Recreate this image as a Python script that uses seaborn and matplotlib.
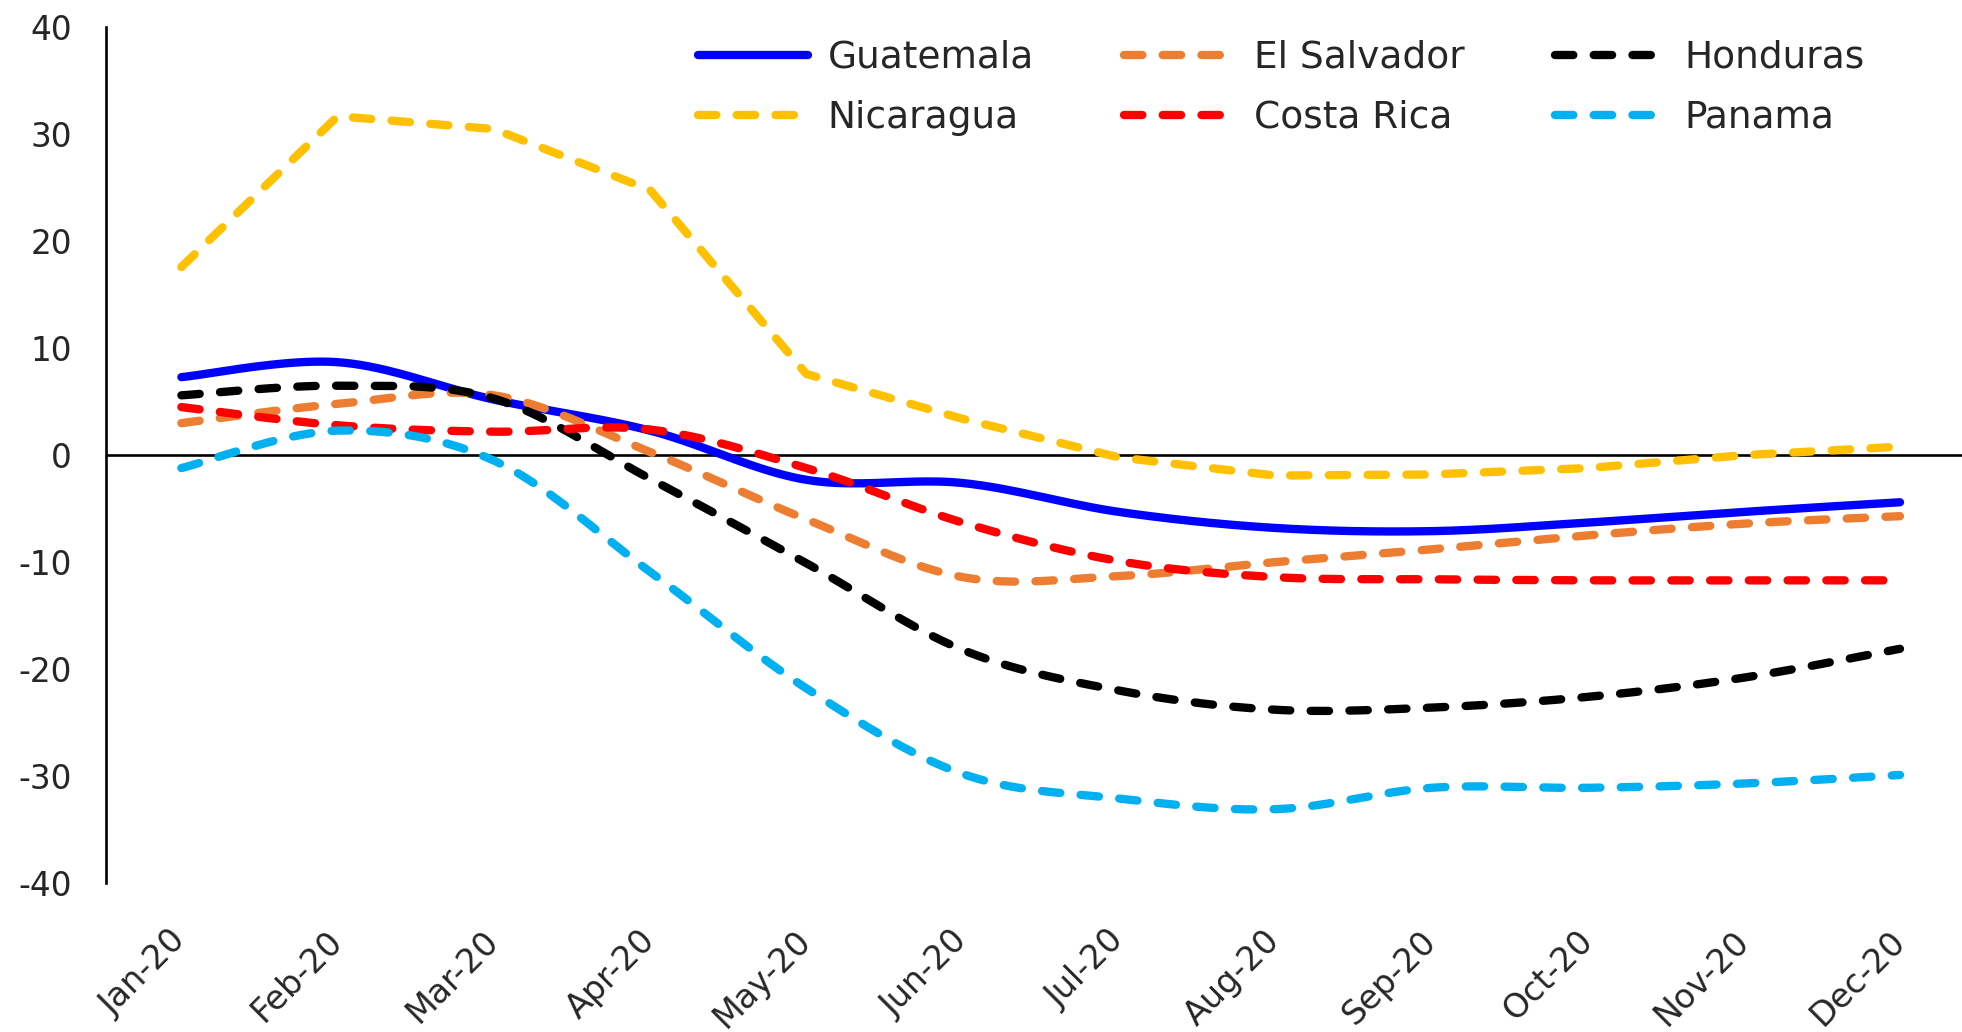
import numpy as np
import pandas as pd
import matplotlib
matplotlib.use("Agg")
import matplotlib.pyplot as plt
import matplotlib.transforms as mtransforms
from matplotlib.lines import Line2D
import seaborn as sns

# Monthly values, 2020
months = ["Jan-20", "Feb-20", "Mar-20", "Apr-20", "May-20", "Jun-20",
          "Jul-20", "Aug-20", "Sep-20", "Oct-20", "Nov-20", "Dec-20"]
guatemala = [7.3, 8.7, 5.2, 2.3, -2.3, -2.6, -5.3, -6.8, -7.1, -6.3, -5.3, -4.4]
el_salvador = [3.0, 4.8, 5.6, 0.3, -6.0, -11.4, -11.3, -10.0, -8.8, -7.5, -6.4, -5.7]
honduras = [5.6, 6.5, 5.3, -2.2, -10.1, -18.2, -22.0, -23.8, -23.6, -22.6, -20.8, -18.1]
nicaragua = [17.6, 31.7, 30.5, 24.8, 7.6, 3.4, -0.2, -1.9, -1.8, -1.2, 0.0, 0.8]
costa_rica = [4.5, 2.8, 2.2, 2.4, -1.2, -6.3, -9.9, -11.4, -11.6, -11.7, -11.7, -11.7]
panama = [-1.2, 2.3, -0.5, -10.9, -21.8, -29.8, -32.1, -33.1, -31.1, -31.1, -30.7, -29.9]

countries = ["Guatemala", "El Salvador", "Honduras", "Nicaragua", "Costa Rica", "Panama"]
values = [guatemala, el_salvador, honduras, nicaragua, costa_rica, panama]
palette = {"Guatemala": "#0000FF", "El Salvador": "#ED7D31", "Honduras": "#000000",
           "Nicaragua": "#FFC000", "Costa Rica": "#FF0000", "Panama": "#00B0F0"}
smooth = {"Guatemala": True, "El Salvador": True, "Honduras": True,
          "Nicaragua": False, "Costa Rica": True, "Panama": True}
dash = (2.2, 2.45)
dashes = {c: ("" if c == "Guatemala" else dash) for c in countries}
LW = 6.0
TEXT = "#262626"


def smoothed_path(x, y, n=40):
    """Cubic Bezier through the points, control arms 1/6 of the neighbour chord."""
    pts = np.column_stack([x, y]).astype(float)
    pad = np.vstack([pts[0], pts, pts[-1]])
    t = np.linspace(0, 1, n)[1:, None]
    out = [pts[:1]]
    for i in range(len(pts) - 1):
        p0, p3 = pts[i], pts[i + 1]
        p1 = p0 + (pad[i + 2] - pad[i]) / 6
        p2 = p3 - (pad[i + 3] - pad[i + 1]) / 6
        out.append((1 - t) ** 3 * p0 + 3 * (1 - t) ** 2 * t * p1
                   + 3 * (1 - t) * t ** 2 * p2 + t ** 3 * p3)
    return np.vstack(out)


frames = []
xs = np.arange(len(months))
for name, vals in zip(countries, values):
    if smooth[name]:
        path = smoothed_path(xs, vals)
        frames.append(pd.DataFrame({"x": path[:, 0], "value": path[:, 1], "country": name}))
    else:
        frames.append(pd.DataFrame({"x": xs, "value": vals, "country": name}))
df = pd.concat(frames, ignore_index=True)

sns.set_theme(style="white")
plt.rcParams["font.family"] = ["DejaVu Sans"]
plt.rcParams["axes.unicode_minus"] = False

fig = plt.figure(figsize=(19.62, 10.32), dpi=100)
ax = fig.add_axes([106.4 / 1962, 0.1444, 1 - 106.4 / 1962, 0.829])

sns.lineplot(data=df, x="x", y="value", hue="country", style="country",
             hue_order=countries, style_order=countries, palette=palette,
             dashes=dashes, linewidth=LW, estimator=None, sort=False,
             legend=False, ax=ax, zorder=3)
for ln in ax.lines:
    ln.set_linewidth(LW)
    ln.set_dash_capstyle("round")
    ln.set_solid_capstyle("round")

# zero reference line, under the series
ax.axhline(0, color="black", lw=1.9, zorder=1)

ax.set_xlim(-0.48, 11.397)
ax.set_ylim(-40, 40)
ax.set_yticks(range(-40, 41, 10))
ax.set_xticks(xs)
ax.set_xticklabels(months, rotation=45, ha="right", va="center",
                   rotation_mode="anchor")
offset = mtransforms.ScaledTranslation(14 / 100, 0, fig.dpi_scale_trans)
for lbl in ax.get_xticklabels():
    lbl.set_transform(lbl.get_transform() + offset)
ax.tick_params(axis="x", length=0, pad=38, labelsize=24, labelcolor=TEXT)
ax.tick_params(axis="y", length=0, pad=25, labelsize=23.5, labelcolor=TEXT)
ax.set_xlabel("")
ax.set_ylabel("")
for side in ["top", "right", "bottom"]:
    ax.spines[side].set_visible(False)
ax.spines["left"].set_color("black")
ax.spines["left"].set_linewidth(1.9)
ax.grid(False)

handles = {}
for name in countries:
    ls = "-" if name == "Guatemala" else (0, dash)
    handles[name] = Line2D([], [], color=palette[name], lw=LW, linestyle=ls,
                           dash_capstyle="round", solid_capstyle="round")
order = ["Guatemala", "Nicaragua", "El Salvador", "Costa Rica", "Honduras", "Panama"]
fig.legend([handles[n] for n in order], order, ncol=3, loc="upper left",
           bbox_to_anchor=(698 / 1962, 1 - 40 / 1032), frameon=False,
           fontsize=27, labelcolor=TEXT, handlelength=2.93, handletextpad=0.53,
           columnspacing=2.4, labelspacing=0.64, borderpad=0, borderaxespad=0)

fig.savefig("out.png", dpi=100)
